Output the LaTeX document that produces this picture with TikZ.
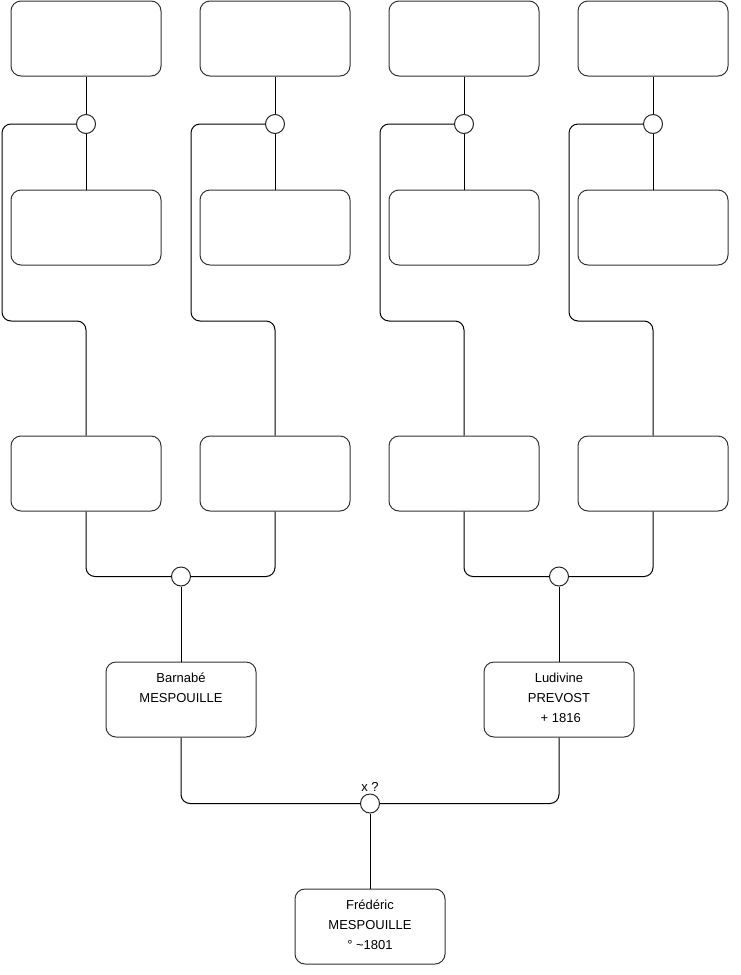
\documentclass[tikz,border=0pt]{standalone}
\usepackage{fontspec}
\setmainfont{Liberation Sans}
\begin{document}
\begin{tikzpicture}[x=1pt,y=-1pt,
  person/.style={draw=black!80,line width=1pt,rounded corners=10pt,minimum width=150pt,minimum height=75pt,inner sep=0pt,align=center,font=\fontsize{13pt}{20pt}\selectfont},
  union/.style={draw=black!85,line width=1pt,circle,minimum size=19pt,inner sep=0pt,fill=white},
  link/.style={draw=black,line width=1pt,rounded corners=9pt}]
\useasboundingbox (0,0) rectangle (740,975);
% top row
\foreach \i/\x in {1/86,2/275,3/464,4/653}{
  \node[person] (t\i) at (\x,38.5) {};
  \node[person] (m\i) at (\x,227.5) {};
  \node[person] (p\i) at (\x,473.5) {};
  \node[union] (c\i) at (\x,124) {};
}
\coordinate (k1) at (2,321);
\coordinate (k2) at (191,321);
\coordinate (k3) at (380,321);
\coordinate (k4) at (569,321);
\foreach \i in {1,2,3,4}{
  \draw[link] (t\i.south) -- (c\i.north);
  \draw[link] (c\i.south) -- (m\i.north);
  \draw[link] (c\i.west) -| (k\i) -| (p\i.north);
}
\node[union] (cp1) at (181,576.5) {};
\node[union] (cp2) at (559,576.5) {};
\draw[link] (p1.south) |- (cp1.west);
\draw[link] (p2.south) |- (cp1.east);
\draw[link] (p3.south) |- (cp2.west);
\draw[link] (p4.south) |- (cp2.east);
\node[person,text depth=3pt] (g1) at (181,699.5) {Barnabé\\MESPOUILLE\\\mbox{}};
\node[person,text depth=3pt] (g2) at (559,699.5) {Ludivine\\PREVOST\\\ + 1816};
\draw[link] (cp1.south) -- (g1.north);
\draw[link] (cp2.south) -- (g2.north);
\node[union] (cf) at (370,803.5) {};
\node[font=\fontsize{13pt}{15pt}\selectfont,anchor=south,inner sep=2pt] (xl) at (cf.north) {x ?};
\draw[link] (g1.south) |- (cf.west);
\draw[link] (g2.south) |- (cf.east);
\node[person,text depth=3pt] (f) at (370,926.5) {Frédéric\\MESPOUILLE\\° \textasciitilde1801};
\draw[link] (cf.south) -- (f.north);
\end{tikzpicture}
\end{document}
